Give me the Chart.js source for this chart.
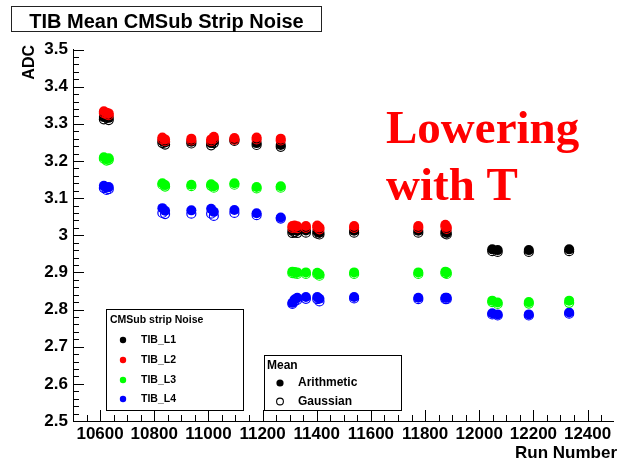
<!DOCTYPE html>
<html>
<head>
<meta charset="utf-8">
<script src="https://cdn.jsdelivr.net/npm/chart.js@4/dist/chart.umd.min.js"></script>
<style>
  html, body { margin: 0; padding: 0; background: #fff; }
  canvas { display: block; }
</style>
</head>
<body>
<canvas id="c" width="619" height="464"></canvas>
<script>
// Run numbers of the measured runs
const runs = [10614, 10624, 10632, 10830, 10840, 10937, 11010, 11020, 11096, 11178, 11267,
              11310, 11318, 11328, 11360, 11402, 11410, 11538, 11775, 11875, 11880,
              12048, 12068, 12183, 12332];

// Mean noise per layer (ADC): arithmetic mean and gaussian-fit mean
const l1Arith = [3.318, 3.322, 3.316, 3.254, 3.250, 3.252, 3.248, 3.254, 3.258, 3.248, 3.243,
                 3.012, 3.014, 3.012, 3.013, 3.010, 3.007, 3.012, 3.012, 3.010, 3.007,
                 2.962, 2.960, 2.960, 2.962];
const l1Gaus  = [3.312, 3.316, 3.310, 3.248, 3.244, 3.247, 3.242, 3.248, 3.254, 3.243, 3.238,
                 3.006, 3.008, 3.006, 3.007, 3.004, 3.002, 3.007, 3.007, 3.004, 3.002,
                 2.957, 2.955, 2.955, 2.957];
const l2Arith = [3.334, 3.330, 3.328, 3.263, 3.258, 3.260, 3.258, 3.265, 3.262, 3.263, 3.260,
                 3.025, 3.026, 3.024, 3.025, 3.026, 3.021, 3.025, 3.025, 3.028, 3.022,
                 null, null, null, null];
const l2Gaus  = [3.329, 3.325, 3.323, 3.258, 3.253, 3.255, 3.253, 3.260, 3.257, 3.258, 3.255,
                 3.020, 3.021, 3.019, 3.020, 3.021, 3.016, 3.020, 3.020, 3.023, 3.017,
                 null, null, null, null];
const l3Arith = [3.210, 3.205, 3.207, 3.140, 3.135, 3.136, 3.137, 3.132, 3.140, 3.130, 3.132,
                 2.902, 2.901, 2.900, 2.900, 2.899, 2.895, 2.900, 2.900, 2.902, 2.900,
                 2.824, 2.819, 2.820, 2.824];
const l3Gaus  = [3.206, 3.201, 3.203, 3.136, 3.131, 3.132, 3.133, 3.128, 3.136, 3.126, 3.128,
                 2.898, 2.897, 2.896, 2.896, 2.895, 2.891, 2.896, 2.896, 2.898, 2.896,
                 2.820, 2.815, 2.816, 2.818];
const l4Arith = [3.133, 3.128, 3.130, 3.073, 3.066, 3.067, 3.071, 3.063, 3.068, 3.059, 3.048,
                 2.818, 2.827, 2.832, 2.834, 2.834, 2.829, 2.834, 2.832, 2.832, 2.832,
                 2.790, 2.787, 2.787, 2.792];
const l4Gaus  = [3.127, 3.122, 3.124, 3.060, 3.057, 3.058, 3.058, 3.052, 3.060, 3.054, 3.045,
                 2.815, 2.822, 2.826, 2.829, 2.828, 2.822, 2.830, 2.828, 2.828, 2.828,
                 2.787, 2.784, 2.784, 2.789];

// Axis labels
const xTickLabels = [10600, 10800, 11000, 11200, 11400, 11600, 11800, 12000, 12200, 12400];
const yTickLabels = [2.5, 2.6, 2.7, 2.8, 2.9, 3.0, 3.1, 3.2, 3.3, 3.4, 3.5];

const layerNames  = ['TIB_L1', 'TIB_L2', 'TIB_L3', 'TIB_L4'];
const layerColors = ['#000000', '#ff0000', '#00ff00', '#0000ff'];

const FONT = '"Liberation Sans", Arial, Helvetica, sans-serif';

function points(vals) {
  const out = [];
  runs.forEach((r, i) => { if (vals[i] !== null) out.push({ x: r, y: vals[i] }); });
  return out;
}
function filled(vals, color) {
  return { data: points(vals), pointRadius: 5, pointHoverRadius: 5,
           backgroundColor: color, borderColor: color, borderWidth: 0, pointStyle: 'circle' };
}
function hollow(vals, color) {
  return { data: points(vals), pointRadius: 4.5, pointHoverRadius: 4.5,
           backgroundColor: 'rgba(0,0,0,0)', borderColor: color, borderWidth: 1.2, pointStyle: 'circle' };
}

// First dataset ends up on top
const datasets = [
  filled(l2Arith, layerColors[1]), hollow(l2Gaus, layerColors[1]),
  filled(l1Arith, layerColors[0]), hollow(l1Gaus, layerColors[0]),
  filled(l3Arith, layerColors[2]), hollow(l3Gaus, layerColors[2]),
  filled(l4Arith, layerColors[3]), hollow(l4Gaus, layerColors[3])
];

// Inward tick marks, boxed title, legends and annotations
const decorations = {
  id: 'decorations',
  afterDraw(chart) {
    const ctx = chart.ctx;
    const xs = chart.scales.x, ys = chart.scales.y;
    const area = chart.chartArea;
    ctx.save();
    ctx.strokeStyle = '#000';
    ctx.lineWidth = 1;

    // y ticks: major every 0.1, minor every 0.02
    ctx.beginPath();
    for (let i = 0; i <= 50; i++) {
      const v = 2.5 + i * 0.02;
      const y = Math.round(ys.getPixelForValue(v)) + 0.5;
      const len = (i % 5 === 0) ? 11 : 6;
      ctx.moveTo(area.left, y);
      ctx.lineTo(area.left + len, y);
    }
    // x ticks: major every 200, minor every 50
    for (let r = 10550; r <= 12500; r += 50) {
      const x = Math.round(xs.getPixelForValue(r)) + 0.5;
      if (x > area.right) break;
      const len = ((r - 10600) % 200 === 0) ? 11 : 6;
      ctx.moveTo(x, area.bottom);
      ctx.lineTo(x, area.bottom - len);
    }
    ctx.stroke();

    // Boxed title
    ctx.fillStyle = '#fff';
    ctx.fillRect(11.5, 6.5, 310, 25);
    ctx.strokeStyle = '#222';
    ctx.strokeRect(11.5, 6.5, 310, 25);
    ctx.fillStyle = '#000';
    ctx.font = 'bold 20px ' + FONT;
    ctx.textAlign = 'center';
    ctx.textBaseline = 'alphabetic';
    ctx.fillText('TIB Mean CMSub Strip Noise', 166.5, 27.5);

    // Axis titles
    ctx.font = 'bold 16px ' + FONT;
    ctx.save();
    ctx.translate(34, 45);
    ctx.rotate(-Math.PI / 2);
    ctx.textAlign = 'right';
    ctx.fillText('ADC', 0, 0);
    ctx.restore();
    ctx.font = 'bold 17px ' + FONT;
    ctx.textAlign = 'right';
    ctx.fillText('Run Number', 617, 458);

    // Layer legend
    ctx.fillStyle = '#fff';
    ctx.fillRect(106.5, 309.5, 137, 101);
    ctx.strokeStyle = '#000';
    ctx.strokeRect(106.5, 309.5, 137, 101);
    ctx.fillStyle = '#000';
    ctx.textAlign = 'left';
    ctx.font = 'bold 10.5px ' + FONT;
    ctx.fillText('CMSub strip Noise', 110, 323);
    ctx.textBaseline = 'middle';
    const rows = [340, 360, 380, 399];
    layerNames.forEach((name, i) => {
      ctx.fillStyle = layerColors[i];
      ctx.beginPath();
      ctx.arc(123, rows[i], 3.2, 0, Math.PI * 2);
      ctx.fill();
      ctx.fillStyle = '#000';
      ctx.fillText(name, 141, rows[i]);
    });

    // Mean-type legend
    ctx.fillStyle = '#fff';
    ctx.fillRect(264.5, 355.5, 137, 55);
    ctx.strokeStyle = '#000';
    ctx.strokeRect(264.5, 355.5, 137, 55);
    ctx.fillStyle = '#000';
    ctx.font = 'bold 12px ' + FONT;
    ctx.textBaseline = 'alphabetic';
    ctx.fillText('Mean', 267, 369);
    ctx.textBaseline = 'middle';
    ctx.beginPath();
    ctx.arc(280, 383, 3.6, 0, Math.PI * 2);
    ctx.fill();
    ctx.beginPath();
    ctx.arc(280, 401.5, 3.4, 0, Math.PI * 2);
    ctx.lineWidth = 1.1;
    ctx.stroke();
    ctx.fillText('Arithmetic', 298, 383);
    ctx.fillText('Gaussian', 298, 401.5);

    // Annotation
    ctx.fillStyle = '#ff0000';
    ctx.font = 'bold 47px "Liberation Serif", "Times New Roman", serif';
    ctx.textBaseline = 'alphabetic';
    ctx.fillText('Lowering', 386, 143);
    ctx.fillText('with T', 386, 200);

    ctx.restore();
  }
};

new Chart(document.getElementById('c'), {
  type: 'scatter',
  data: { datasets },
  options: {
    responsive: false,
    animation: false,
    devicePixelRatio: 1,
    layout: { padding: { left: 0, top: 49.5, right: 0, bottom: 0 } },
    plugins: { legend: { display: false }, tooltip: { enabled: false }, title: { display: false } },
    scales: {
      x: {
        type: 'linear',
        min: 10500,
        max: 12495,
        afterBuildTicks: s => { s.ticks = xTickLabels.map(v => ({ value: v })); },
        afterFit: s => { s.height = 43; s.paddingLeft = 0; s.paddingRight = 0; },
        grid: { display: false, drawTicks: false },
        border: { display: true, color: '#000', width: 1 },
        ticks: {
          autoSkip: false, maxRotation: 0, minRotation: 0, padding: 3,
          color: '#000', font: { family: FONT, weight: 'bold', size: 17 },
          callback: v => String(v)
        }
      },
      y: {
        type: 'linear',
        min: 2.5,
        max: 3.5,
        afterBuildTicks: s => { s.ticks = yTickLabels.map(v => ({ value: v })); },
        afterFit: s => { s.width = 73; s.paddingTop = 0; s.paddingBottom = 0; },
        grid: { display: false, drawTicks: false },
        border: { display: true, color: '#000', width: 1 },
        ticks: {
          autoSkip: false, padding: 5,
          color: '#000', font: { family: FONT, weight: 'bold', size: 17 },
          callback: v => (Math.abs(v - 3) < 1e-9 ? '3' : v.toFixed(1))
        }
      }
    }
  },
  plugins: [decorations]
});
</script>
</body>
</html>
